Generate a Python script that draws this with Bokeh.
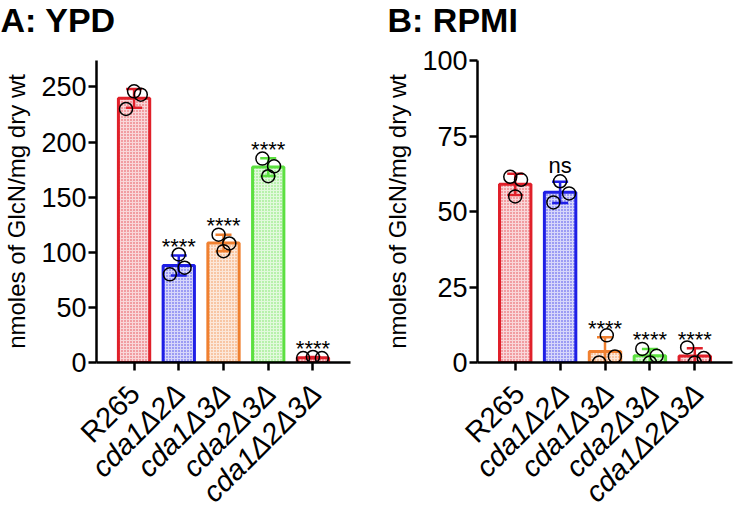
import numpy as np
from bokeh.plotting import figure
from bokeh.models import Range1d, FixedTicker, ColumnDataSource
from bokeh.layouts import row, column
from bokeh.embed import file_html
from bokeh.resources import INLINE
from bokeh.core.properties import value, field

# ---------------- data ----------------
strains = ["R265", "cda1Δ2Δ", "cda1Δ3Δ", "cda2Δ3Δ", "cda1Δ2Δ3Δ"]
strain_styles = ["normal", "italic", "italic", "italic", "italic"]
bar_colors = ["#e0202a", "#1f1fe6", "#f08030", "#5ce040", "#e0202a"]

# A: YPD replicate values (nmoles GlcN / mg dry wt)
ypd_reps = [[246, 243, 230], [98, 86, 80], [116, 108, 101], [185, 178, 169], [4, 5, 4]]
ypd_jitter = [[0.0, 0.15, -0.18], [0.0, 0.13, -0.2], [-0.11, 0.13, 0.0], [-0.13, 0.13, 0.0], [-0.22, 0.0, 0.2]]
ypd_sig = ["", "****", "****", "****", "****"]
ypd_ticks = [0, 50, 100, 150, 200, 250]

# B: RPMI replicate values
rpmi_reps = [[61.5, 60.5, 55], [60, 56, 53], [9, 2, 0], [4.5, 2.2, 0], [5, 1.5, 0]]
rpmi_jitter = [[-0.11, 0.13, 0.0], [0.0, 0.2, -0.15], [0.04, 0.22, -0.13], [-0.17, 0.15, 0.0], [-0.17, 0.2, 0.0]]
rpmi_sig = ["", "ns", "****", "****", "****"]
rpmi_ticks = [0, 25, 50, 75, 100]

FONT = "Liberation Sans"
TITLE_H = 40      # title strip
MAIN_TOP = 20     # border above the frame in the main figure
FRAME_H = 302
MAIN_BOT = 24
LABEL_H = 505 - TITLE_H - (MAIN_TOP + FRAME_H + MAIN_BOT)
LABEL_GAP = 26    # px from the x axis line down to the end of each category label
LABEL_DX = 4      # px right of the tick
X0, X1 = -0.84, 4.84


def strip(width, height, x_start, x_end):
    s = figure(width=width, height=height, x_range=Range1d(x_start, x_end), y_range=Range1d(0, height),
               output_backend="svg", toolbar_location=None, x_axis_location=None, y_axis_location=None,
               min_border_left=0, min_border_right=0, min_border_top=0, min_border_bottom=0,
               frame_align=False)
    s.outline_line_color = None
    s.xgrid.visible = False
    s.ygrid.visible = False
    return s


def make_panel(title, reps, jitter, sig, y_end, y_ticks, width, left, right, title_x):
    idx = list(range(len(strains)))
    means = [float(np.mean(r)) for r in reps]
    sds = [float(np.std(r, ddof=1)) for r in reps]
    p = figure(width=width, height=MAIN_TOP + FRAME_H + MAIN_BOT,
               x_range=Range1d(X0, X1), y_range=Range1d(0, y_end),
               output_backend="svg", toolbar_location=None,
               min_border_left=left, min_border_right=width - right,
               min_border_top=MAIN_TOP, min_border_bottom=MAIN_BOT, frame_align=False)
    p.outline_line_color = None
    p.xgrid.visible = False
    p.ygrid.visible = False

    bars = ColumnDataSource(dict(x=idx, top=means, color=bar_colors,
                                 lo=[m - s for m, s in zip(means, sds)],
                                 hi=[m + s for m, s in zip(means, sds)]))
    p.vbar(x="x", top="top", bottom=0, width=0.7, source=bars,
           fill_color="color", fill_alpha=0.18, line_color="color", line_width=3,
           hatch_pattern="dot", hatch_color="color", hatch_alpha=0.8,
           hatch_scale=3, hatch_weight=1)
    p.segment(x0="x", x1="x", y0="lo", y1="hi", line_color="color", line_width=2.5, source=bars)
    p.scatter(x="x", y="hi", marker="dash", size=16, line_color="color", line_width=2.5, source=bars)
    p.scatter(x="x", y="lo", marker="dash", size=16, line_color="color", line_width=2.5, source=bars)

    px, py = [], []
    for i, (r, j) in enumerate(zip(reps, jitter)):
        for v, d in zip(r, j):
            px.append(i + d)
            py.append(v)
    p.scatter(px, py, marker="circle", size=13, fill_color=None, line_color="black", line_width=1.5)

    # significance labels (baseline shifted so the glyphs sit ~22px above the error bar)
    baseline_shift = {"****": -9, "ns": -16}
    for lab, off in baseline_shift.items():
        xs = [i for i, s in enumerate(sig) if s == lab]
        if not xs:
            continue
        ys = [means[i] + sds[i] for i in xs]
        p.text(xs, ys, text=[lab] * len(xs), text_align="center", text_baseline="alphabetic",
               y_offset=off, text_font=value(FONT), text_font_size="22px", text_color="black")

    # axes
    ya = p.yaxis[0]
    ya.ticker = FixedTicker(ticks=y_ticks)
    ya.axis_label = "nmoles of GlcN/mg dry wt"
    ya.axis_label_text_font = FONT
    ya.axis_label_text_font_size = "24px"
    ya.axis_label_text_font_style = "normal"
    ya.axis_label_text_color = "black"
    ya.axis_label_standoff = 8
    ya.major_label_text_font = FONT
    ya.major_label_text_font_size = "27px"
    ya.major_label_text_color = "black"
    ya.major_label_standoff = 2
    for ax in (ya, p.xaxis[0]):
        ax.axis_line_width = 2.5
        ax.axis_line_color = "black"
        ax.major_tick_line_width = 2.5
        ax.major_tick_line_color = "black"
        ax.major_tick_in = 0
        ax.major_tick_out = 8
        ax.minor_tick_line_color = None
    xa = p.xaxis[0]
    xa.ticker = FixedTicker(ticks=idx)
    xa.major_label_text_font_size = "0px"
    xa.major_label_standoff = 0

    # strips that share the same x scale, for the title and the rotated category labels
    ppu = (right - left) / (X1 - X0)
    xs0 = X0 - left / ppu
    xs1 = X1 + (width - right) / ppu

    t = strip(width, TITLE_H, xs0, xs1)
    t.text([xs0], [TITLE_H], text=[title], x_offset=title_x, text_align="left", text_baseline="top",
           text_font=value(FONT), text_font_size="34px", text_font_style="bold", text_color="black")

    b = strip(width, LABEL_H, xs0, xs1)
    lab_src = ColumnDataSource(dict(x=idx, y=[LABEL_H] * len(idx), text=strains, style=strain_styles))
    b.text(x="x", y="y", text="text", source=lab_src, x_offset=LABEL_DX, y_offset=LABEL_GAP - MAIN_BOT,
           angle=45, angle_units="deg", text_align="right", text_baseline="middle",
           text_font=value(FONT), text_font_size="29px",
           text_font_style=field("style"), text_color="black")
    return column(t, p, b, spacing=0)


pA = make_panel("A: YPD", ypd_reps, ypd_jitter, ypd_sig, 274, ypd_ticks, 371, 92, 350, 0)
pB = make_panel("B: RPMI", rpmi_reps, rpmi_jitter, rpmi_sig, 100, rpmi_ticks, 363, 106, 361, 16)

layout = row(pA, pB, spacing=0)
open("out.html", "w").write(file_html(layout, INLINE))
